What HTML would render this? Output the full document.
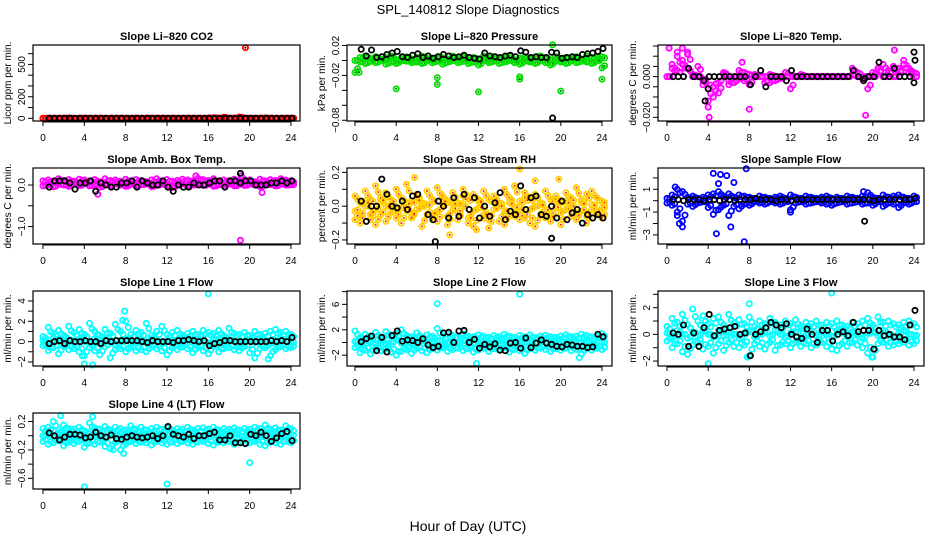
<!DOCTYPE html>
<html><head><meta charset="utf-8"><style>
html,body{margin:0;padding:0;background:#fff;}
svg{display:block;font-family:"Liberation Sans",Arial,sans-serif;}
</style></head><body>
<svg id="chart" width="936" height="540" viewBox="0 0 936 540" xmlns="http://www.w3.org/2000/svg">
<text x="468" y="14" text-anchor="middle" font-size="13">SPL_140812  Slope Diagnostics</text>
<text x="468" y="531" text-anchor="middle" font-size="14">Hour of Day (UTC)</text>
</svg>
<script>
// ---- data ----
const hours = [0,0.5,1,1.5,2,2.5,3,3.5,4,4.5,5,5.5,6,6.5,7,7.5,8,8.5,9,9.5,10,10.5,11,11.5,12,12.5,13,13.5,14,14.5,15,15.5,16,16.5,17,17.5,18,18.5,19,19.5,20,20.5,21,21.5,22,22.5,23,23.5,24];
const xTicks = [0,4,8,12,16,20,24];

const co2A = [0,2,-1,1,0,3,-2,0,1,-1,2,0,-3,1,0,2,-1,1,0,-2,3,0,1,-1,0,2,-1,1,0,-2,1,0,3,5,2,10,1,0,12,2,-1,0,1,3,0,-2,1,0,2];
const co2B = [-2,0,1,-1,2,0,-1,1,0,2,-1,0,1,-2,0,1,0,-1,2,0,-1,1,0,2,-1,0,1,-1,0,2,0,-1,1,0,-2,1,0,2,-1,0,1,-1,0,2,0,1,-1,0,1];
const co2K = [null,0,0,0,0,0,0,0,0,0,0,0,0,0,0,0,0,0,0,0,0,0,0,0,0,0,0,0,0,0,0,0,0,0,0,0,0,0,0,0,0,0,0,0,0,0,0,0,0];
const co2Out = [[19.6,655]];

const presA = [-0.016,0.004,0.006,0.003,0.005,0.002,0.004,0.006,0.001,0.003,0.005,0.002,0.004,0.006,0.003,0.001,0.005,0.004,0.002,0.006,0.003,0.005,0.001,0.004,0.002,0.006,0.003,0.005,0.002,0.004,0.006,0.001,0.003,0.005,0.002,0.004,0.006,0.003,0.001,0.005,0.002,0.004,0.003,0.005,0.002,0.006,0.004,0.003,0.005];
const presB = [0.000,-0.002,-0.004,-0.001,-0.003,0.000,-0.005,-0.002,-0.004,0.000,-0.001,-0.003,-0.002,-0.004,0.000,-0.003,-0.001,-0.005,-0.002,0.000,-0.003,-0.001,-0.004,-0.002,-0.006,0.000,-0.003,-0.001,-0.004,-0.002,0.000,-0.003,-0.005,-0.001,-0.002,-0.004,0.000,-0.003,-0.006,-0.001,-0.002,-0.004,0.000,-0.003,-0.001,-0.002,-0.004,0.000,-0.010];
const presK = [null,0.015,0.006,0.014,0.004,0.005,0.008,0.010,0.012,0.005,0.004,0.007,0.009,0.004,0.006,0.003,0.005,0.008,0.006,0.004,0.005,0.007,0.004,0.003,0.002,0.010,0.006,0.005,0.004,0.006,0.007,0.005,0.013,0.011,0.004,0.005,0.004,0.004,0.011,0.010,0.003,0.004,0.005,0.004,0.008,0.009,0.010,0.012,0.016];
const presOut = [[0.4,-0.016],[4,-0.038],[8,-0.023],[8,-0.032],[12,-0.042],[16,-0.022],[16,-0.025],[20,-0.041],[24,-0.025],[19.2,0.021]];
const presOutK = [[19.2,-0.077]];

const tempA = [0.000,0.006,0.010,0.008,0.012,0.000,0.005,-0.002,-0.006,-0.010,-0.003,0.002,-0.004,0.000,0.003,-0.002,0.001,0.000,0.000,0.000,-0.003,0.000,0.000,0.002,0.000,0.000,0.000,0.000,0.000,0.000,0.000,0.000,0.000,0.000,0.000,0.000,0.004,0.000,0.000,0.000,0.000,0.003,0.000,0.002,0.005,0.003,0.008,0.004,0.002];
const tempB = [0.000,0.004,0.003,0.006,0.004,0.001,0.000,-0.004,-0.012,-0.005,-0.008,0.001,-0.002,-0.003,-0.001,0.002,-0.004,0.001,0.000,-0.003,0.001,-0.002,-0.001,0.000,-0.006,0.000,0.001,0.000,0.000,0.000,0.000,0.000,0.000,0.000,0.000,0.000,0.001,0.002,-0.001,-0.006,0.002,0.004,0.006,0.003,0.000,0.004,0.006,0.002,0.000];
const tempK = [null,0,0,0,0.004,0,0,-0.002,0,0,0,0,0,0,0,0,-0.004,0,0.003,-0.005,0,0,0,-0.002,0.003,0,0,0,0,0,0,0,0,0,0,0,0.003,0,-0.002,0,0.000,0.007,0,0,0.004,0,0,0,0.008];
const tempOut = [[0.2,0.014],[1.5,0.014],[4.1,-0.020],[8,-0.016],[19.3,-0.019],[22.1,0.013],[4,-0.015],[7.3,0.007],[1,0.012],[2,0.011]];
const tempOutK = [[3.7,-0.012],[4,-0.006],[24,0.012],[24,-0.003],[19.2,-0.001]];

const ambA = [0.10,0.12,0.08,0.15,0.11,0.13,0.09,0.14,0.12,0.10,0.13,0.08,0.15,0.11,0.12,0.09,0.14,0.10,0.13,0.11,0.08,0.12,0.15,0.10,0.13,0.09,0.11,0.14,0.12,0.10,0.16,0.13,0.11,0.15,0.09,0.12,0.10,0.14,0.11,0.13,0.12,0.08,0.14,0.10,0.13,0.11,0.15,0.12,0.10];
const ambB = [-0.02,0.01,-0.04,0.03,0.00,-0.03,0.02,-0.01,0.04,-0.02,0.01,-0.05,0.02,-0.01,0.03,0.00,-0.03,0.02,-0.02,0.01,0.03,-0.04,0.00,0.02,-0.01,-0.06,0.01,0.03,-0.02,0.00,0.04,-0.01,0.02,-0.03,0.01,0.00,0.03,-0.02,0.02,-0.01,0.03,0.00,-0.04,0.02,0.01,-0.02,0.03,0.00,0.01];
const ambK = [null,-0.05,0.10,0.10,0.10,0.05,-0.10,0.05,0.05,0.10,-0.15,0.05,0.00,-0.05,-0.05,0.05,0.05,0.10,-0.05,0.10,0.05,0.00,0.00,0.10,-0.05,-0.15,0.00,-0.05,-0.05,0.05,0.00,0.00,0.05,0.10,0.10,-0.05,0.10,0.10,0.05,0.10,0.10,0.00,0.00,0.00,0.05,0.05,0.10,0.05,0.10];
const ambOut = [[19.1,-1.33],[19.2,0.22],[5.3,-0.22],[14.8,0.22],[21.2,-0.18]];
const ambOutK = [[19.1,0.28]];

const rhA = [0.06,0.02,0.09,0.04,0.12,0.03,0.08,0.01,0.10,0.05,0.13,0.03,0.07,0.02,0.09,0.04,0.11,0.06,0.03,0.08,0.02,0.10,0.05,0.07,0.03,0.09,0.04,0.06,0.02,0.10,0.05,0.12,0.03,0.08,0.05,0.07,0.02,0.09,0.04,0.06,0.03,0.08,0.05,0.11,0.04,0.07,0.09,0.05,0.03];
const rhB = [-0.03,-0.06,0.00,-0.08,-0.02,-0.05,0.00,-0.04,-0.07,-0.01,-0.03,-0.06,-0.02,0.00,-0.05,-0.08,-0.03,0.01,-0.06,-0.02,-0.04,0.00,-0.07,-0.03,-0.01,-0.05,-0.08,-0.02,0.00,-0.04,-0.06,-0.01,-0.03,-0.07,-0.02,0.00,-0.05,-0.03,-0.06,-0.01,-0.04,-0.02,0.00,-0.05,-0.03,-0.06,-0.02,-0.04,-0.01];
const rhC = [-0.08,-0.10,0.03,-0.05,-0.11,0.05,-0.09,0.04,-0.03,-0.10,0.02,-0.07,0.05,-0.12,0.01,-0.06,-0.09,0.04,-0.11,0.02,-0.08,0.06,-0.10,-0.12,0.04,-0.07,-0.13,0.03,-0.09,-0.11,0.02,-0.06,-0.08,0.05,-0.10,-0.12,0.01,-0.07,-0.09,0.04,-0.11,0.03,-0.06,-0.08,0.02,-0.10,0.01,-0.05,-0.07];
const rhK = [null,0.03,-0.09,0.00,0.00,0.16,0.07,0.00,-0.01,0.03,-0.02,0.06,0.07,null,-0.05,-0.08,0.03,0.00,-0.07,0.05,-0.06,0.07,-0.02,0.05,-0.07,0.00,-0.06,0.02,0.08,-0.08,-0.03,-0.05,0.12,-0.02,0.05,0.06,-0.05,-0.06,0.00,-0.07,0.03,-0.08,-0.04,-0.02,-0.10,-0.05,-0.07,-0.05,-0.07];
const rhOut = [[16,0.22],[5.8,0.17],[9.2,-0.17],[11.8,-0.14],[17.5,0.15],[19.8,0.16]];
const rhOutK = [[7.8,-0.21],[19.1,-0.19]];

const flowA = [0.2,0.5,1.0,0.8,0.3,0.4,0.2,0.3,0.5,0.6,0.8,0.4,0.6,0.3,0.5,0.4,0.3,0.2,0.4,0.3,0.2,0.3,0.4,0.2,0.5,0.3,0.2,0.4,0.3,0.2,0.3,0.4,0.2,0.3,0.2,0.4,0.3,0.2,0.4,0.7,0.3,0.2,0.5,0.3,0.4,0.5,0.3,0.2,0.4];
const flowB = [-0.2,-0.4,-1.0,-1.8,-0.3,-0.5,-0.2,-0.1,-0.6,-1.2,-0.8,-0.4,-1.3,-0.5,-0.7,-0.3,-0.4,-0.1,-0.2,-0.3,-0.1,-0.2,-0.3,-0.1,-0.8,-0.2,-0.1,-0.3,-0.2,-0.1,-0.2,-0.3,-0.4,-0.2,-0.1,-0.3,-0.2,-0.1,-0.3,-0.2,-0.4,-0.1,-0.5,-0.2,-0.3,-0.6,-0.2,-0.3,-0.1];
const flowK = [null,0.1,0.1,0.0,0.1,0.1,0.1,0.0,0.1,0.1,0.0,0.1,0.1,0.0,0.1,0.1,0.1,0.2,0.1,0.1,0.1,0.0,0.1,0.1,0.0,0.1,0.1,0.1,0.1,0.1,0.1,0.1,0.1,0.1,0.1,0.1,0.1,0.1,0.1,0.1,0.0,0.1,0.1,0.1,0.1,0.1,0.1,0.1,0.2];
const flowOut = [[1.5,-2.3],[1.2,-2.0],[1,-1.3],[0.8,1.2],[4.5,2.4],[5.2,2.3],[5.8,2.2],[7.7,2.8],[7.5,-3.6],[4.8,-2.9],[6.2,-2.3],[5.0,1.5],[6.5,1.6],[12,-1.0],[19.1,0.8]];
const flowOutK = [[19.2,-1.8]];

const l1A = [0.5,1.4,0.8,1.1,0.6,1.5,0.9,1.2,0.7,1.8,1.0,0.6,1.2,0.8,1.7,1.0,2.0,0.7,1.1,0.9,1.8,0.6,1.0,1.5,0.7,0.9,1.1,0.6,0.8,1.0,0.7,1.1,0.9,0.8,1.1,0.6,1.3,0.8,0.7,0.9,0.6,1.0,0.7,0.8,1.0,1.2,0.9,1.0,0.7];
const l1B = [0.1,-0.2,0.3,0.0,-0.3,0.2,-0.1,0.3,0.0,-0.2,0.3,-0.1,0.2,0.0,-0.3,0.1,0.3,-0.2,0.0,0.2,-0.1,0.3,0.0,-0.2,0.1,0.2,-0.3,0.0,0.3,-0.1,0.2,0.0,-0.2,0.3,0.1,-0.1,0.2,0.0,-0.3,0.1,0.2,-0.1,0.3,0.0,-0.2,0.1,0.3,0.0,-0.1];
const l1C = [-0.4,-0.9,-0.6,-1.2,-0.5,-0.8,-0.7,-1.0,-1.4,-0.6,-0.9,-1.3,-0.5,-1.6,-0.8,-0.7,-1.0,-0.6,-0.9,-0.8,-1.0,-0.5,-0.7,-0.9,-1.3,-0.6,-0.8,-0.5,-0.7,-1.1,-0.6,-0.9,-1.2,-0.5,-1.0,-0.7,-0.6,-0.8,-0.9,-0.5,-1.1,-1.6,-0.7,-0.6,-1.4,-0.8,-0.5,-0.7,-0.6];
const l1K = [null,-0.2,0.0,0.1,-0.2,0.1,0.0,0.0,0.1,0.0,0.0,-0.2,0.1,0.0,0.1,0.1,0.1,0.1,0.1,0.0,-0.1,0.1,0.0,0.0,0.0,-0.1,0.1,0.1,0.2,0.1,0.0,0.1,-0.4,-0.2,-0.1,0.1,0.1,0.0,0.0,0.0,0.0,0.0,0.0,0.0,0.1,0.0,0.1,0.0,0.4];
const l1Out = [[16,4.7],[7.9,3.0],[4.8,-2.3],[4,-2.2],[7.7,2.1],[3.8,-1.4],[21.8,-1.7]];

const l2A = [1.8,0.8,1.3,1.0,1.6,0.9,1.7,1.2,1.4,2.0,1.1,0.9,1.5,0.8,1.2,1.0,2.2,0.9,1.3,1.1,0.8,1.4,1.0,0.9,1.2,1.0,0.8,1.1,0.9,1.3,1.0,0.8,1.1,0.9,1.2,0.8,1.0,1.1,0.9,0.8,1.0,1.2,0.9,1.0,1.3,1.1,0.9,1.0,1.4];
const l2B = [0.2,-0.3,0.4,0.0,-0.2,0.3,-0.4,0.1,0.5,-0.1,0.2,-0.3,0.0,0.4,-0.2,0.1,0.3,-0.4,0.0,0.2,-0.1,0.4,0.0,-0.3,0.1,0.3,-0.2,0.0,0.4,-0.3,0.1,0.2,-0.4,0.0,0.3,-0.1,0.2,0.0,-0.3,0.4,0.1,-0.2,0.3,0.0,-0.1,0.2,-0.3,0.1,0.0];
const l2C = [-0.8,-1.6,-1.2,-1.8,-0.9,-1.3,-1.0,-1.5,-2.0,-1.4,-1.1,-1.7,-0.9,-1.3,-1.6,-1.0,-1.2,-0.8,-1.4,-1.1,-0.9,-1.3,-1.0,-1.5,-1.2,-0.9,-1.4,-1.0,-1.2,-0.8,-1.5,-1.1,-1.3,-1.7,-1.0,-1.2,-0.9,-1.1,-1.4,-1.0,-1.2,-0.9,-1.3,-1.1,-1.8,-1.0,-1.2,-0.9,-1.1];
const l2K = [null,0.1,0.6,1.0,-1.3,0.8,-1.5,1.1,1.8,0.2,0.4,0.3,0.0,0.6,-0.4,-0.8,-0.6,1.5,1.6,0.0,1.8,1.9,0.0,0.5,-0.9,-0.3,-0.7,-0.2,-1.2,-1.3,-0.1,0.0,-0.9,0.7,-0.8,-0.1,0.4,-0.1,-0.3,-0.6,-0.7,-0.3,-0.4,-0.6,-0.6,-0.8,-0.7,1.3,0.9];
const l2Out = [[8,6.1],[16,7.6],[11.8,-3.3],[21.8,-2.4]];

const l3A = [0.6,1.2,0.9,1.5,0.7,1.9,1.0,1.4,0.8,1.2,1.3,0.7,1.5,0.9,1.1,0.8,1.3,0.6,1.0,0.8,1.2,0.9,0.7,1.0,0.8,1.1,0.6,0.9,0.8,1.0,0.7,0.9,0.8,1.0,0.7,0.6,0.9,0.8,1.0,1.2,0.7,1.3,0.9,1.0,0.8,0.7,0.9,1.0,0.8];
const l3B = [0.1,-0.2,0.3,0.0,-0.3,0.2,-0.1,0.3,0.0,-0.2,0.3,-0.1,0.2,0.0,-0.3,0.1,0.3,-0.2,0.0,0.2,-0.1,0.3,0.0,-0.2,0.1,0.2,-0.3,0.0,0.3,-0.1,0.2,0.0,-0.2,0.3,0.1,-0.1,0.2,0.0,-0.3,0.1,0.2,-0.1,0.3,0.0,-0.2,0.1,0.3,0.0,-0.1];
const l3C = [-0.5,-1.0,-0.7,-1.3,-1.5,-0.8,-0.6,-1.1,-0.9,-1.4,-0.7,-1.2,-0.6,-0.9,-1.0,-0.8,-1.6,-0.7,-0.9,-1.1,-0.6,-1.2,-0.8,-0.7,-1.0,-0.6,-0.9,-0.7,-1.0,-0.8,-0.6,-0.9,-1.1,-1.2,-0.7,-0.9,-0.6,-0.8,-1.0,-1.4,-1.7,-0.7,-0.6,-0.9,-0.8,-0.7,-0.6,-0.8,-0.7];
const l3K = [null,0.1,0.0,0.7,-0.9,0.1,-0.9,0.5,1.5,-0.1,0.3,0.4,0.5,0.6,0.0,0.1,-1.6,0.0,0.2,0.5,0.9,0.7,0.5,0.8,0.0,-0.2,-0.3,0.4,0.0,-0.6,0.3,0.3,-0.5,0.0,0.2,-0.1,0.9,0.2,0.3,0.3,-1.1,0.3,-0.1,0.0,-0.2,-0.2,-0.4,0.7,1.8];
const l3Out = [[16,3.1],[8,2.3],[4,-2.2],[7.8,-1.7],[19.9,-1.7]];

const l4A = [0.10,0.12,0.20,0.08,0.15,0.10,0.09,0.12,0.07,0.18,0.11,0.09,0.13,0.08,0.12,0.10,0.08,0.14,0.09,0.12,0.08,0.10,0.12,0.09,0.11,0.08,0.10,0.09,0.12,0.08,0.10,0.11,0.09,0.12,0.08,0.10,0.09,0.11,0.08,0.10,0.09,0.12,0.10,0.15,0.09,0.11,0.08,0.14,0.10];
const l4B = [0.00,0.03,-0.02,0.04,0.01,-0.03,0.02,0.00,-0.04,0.03,-0.01,0.02,-0.03,0.04,0.00,-0.02,0.03,0.01,-0.04,0.02,-0.01,0.03,0.00,-0.03,0.02,0.04,-0.02,0.01,-0.03,0.03,0.00,-0.02,0.04,0.01,-0.04,0.02,-0.01,0.03,-0.02,0.00,0.04,-0.03,0.01,0.02,-0.04,0.03,0.00,-0.02,0.01];
const l4C = [-0.08,-0.12,-0.10,-0.07,-0.14,-0.09,-0.11,-0.08,-0.16,-0.10,-0.12,-0.09,-0.15,-0.18,-0.10,-0.20,-0.12,-0.08,-0.11,-0.09,-0.10,-0.13,-0.08,-0.10,-0.12,-0.09,-0.11,-0.08,-0.10,-0.12,-0.09,-0.08,-0.11,-0.13,-0.09,-0.10,-0.08,-0.12,-0.09,-0.11,-0.10,-0.08,-0.12,-0.14,-0.09,-0.10,-0.12,-0.08,-0.10];
const l4K = [null,0.04,0.00,-0.06,-0.02,0.02,0.02,0.01,-0.03,-0.02,0.05,0.00,-0.02,0.01,-0.04,-0.05,-0.02,0.00,-0.02,-0.03,-0.02,0.00,-0.04,0.00,0.13,0.02,0.00,-0.02,0.02,-0.04,0.00,0.00,0.03,0.05,-0.06,-0.06,0.00,-0.10,-0.10,-0.11,0.02,0.00,0.05,0.00,-0.08,-0.03,0.03,0.06,-0.07];
const l4Out = [[4,-0.72],[12,-0.68],[20,-0.38],[1.7,0.28],[4.8,0.27],[7.8,-0.25],[6.8,-0.2]];

// ---- layout ----
const cols = [{bx0:33,bx1:300,x0:43,x1:291},{bx0:347,bx1:612,x0:355,x1:602},{bx0:658,bx1:924,x0:667,x1:914}];
const rows = [{top:45,bot:121},{top:168,bot:244},{top:291,bot:366},{top:413,bot:489}];

const panels = [
 {name:'co2',title:'Slope Li\u2013820 CO2',ylab:'Licor ppm per min.',c:0,r:0,ylim:[-25,680],ticks:[0,100,200,300,400,500,600],labels:[[0,'0'],[200,'200'],[500,'500']],color:'#ff0000',inner:'#000',series:[co2A,co2B],k:co2K,out:co2Out,outK:[]},
 {name:'pressure',title:'Slope Li\u2013820 Pressure',ylab:'kPa per min.',c:1,r:0,ylim:[-0.081,0.0207],ticks:[0.02,0,-0.02,-0.04,-0.06,-0.08],labels:[[0.02,'0.02'],[-0.02,'\u22120.02'],[-0.08,'\u22120.08']],color:'#00e000',inner:'#006600',series:[presA,presB],k:presK,out:presOut,outK:presOutK},
 {name:'li820-temp',title:'Slope Li\u2013820 Temp.',ylab:'degrees C per min.',c:2,r:0,ylim:[-0.0218,0.0155],ticks:[0.015,0.01,0.005,0,-0.005,-0.01,-0.015,-0.02],labels:[[0,'0.000'],[-0.02,'\u22120.020']],color:'#ff00ff',inner:'#ff99ff',series:[tempA,tempB],k:tempK,out:tempOut,outK:tempOutK},
 {name:'amb-box-temp',title:'Slope Amb. Box Temp.',ylab:'degrees C per min.',c:0,r:1,ylim:[-1.42,0.41],ticks:[0,-0.5,-1],labels:[[0,'0.0'],[-1,'\u22121.0']],color:'#ff00ff',inner:'#ff00ff',series:[ambA,ambB],k:ambK,out:ambOut,outK:ambOutK},
 {name:'gas-stream-rh',title:'Slope Gas Stream RH',ylab:'percent per min.',c:1,r:1,ylim:[-0.224,0.226],ticks:[0.2,0.1,0,-0.1,-0.2],labels:[[0.2,'0.2'],[0,'0.0'],[-0.2,'\u22120.2']],color:'#ffd000',inner:'#ff2000',series:[rhA,rhB,rhC],k:rhK,out:rhOut,outK:rhOutK},
 {name:'sample-flow',title:'Slope Sample Flow',ylab:'ml/min per min.',c:2,r:1,ylim:[-3.8,2.87],ticks:[2,1,0,-1,-2,-3],labels:[[1,'1'],[-1,'\u22121'],[-3,'\u22123']],color:'#0000ff',inner:'#0000ff',series:[flowA,flowB],k:flowK,out:flowOut,outK:flowOutK},
 {name:'line1-flow',title:'Slope Line 1 Flow',ylab:'ml/min per min.',c:0,r:2,ylim:[-2.4,4.98],ticks:[4,3,2,1,0,-1,-2],labels:[[4,'4'],[2,'2'],[0,'0'],[-2,'\u22122']],color:'#00ffff',inner:'#00ffff',series:[l1A,l1B,l1C],k:l1K,out:l1Out,outK:[]},
 {name:'line2-flow',title:'Slope Line 2 Flow',ylab:'ml/min per min.',c:1,r:2,ylim:[-3.7,8.1],ticks:[8,6,4,2,0,-2],labels:[[6,'6'],[2,'2'],[-2,'\u22122']],color:'#00ffff',inner:'#00ffff',series:[l2A,l2B,l2C],k:l2K,out:l2Out,outK:[]},
 {name:'line3-flow',title:'Slope Line 3 Flow',ylab:'ml/min per min.',c:2,r:2,ylim:[-2.37,3.25],ticks:[3,2,1,0,-1,-2],labels:[[2,'2'],[0,'0'],[-2,'\u22122']],color:'#00ffff',inner:'#00ffff',series:[l3A,l3B,l3C],k:l3K,out:l3Out,outK:[]},
 {name:'line4-flow',title:'Slope Line 4 (LT) Flow',ylab:'ml/min per min.',c:0,r:3,ylim:[-0.75,0.32],ticks:[0.2,0,-0.2,-0.4,-0.6],labels:[[0.2,'0.2'],[-0.2,'\u22120.2'],[-0.6,'\u22120.6']],color:'#00ffff',inner:'#00ffff',series:[l4A,l4B,l4C],k:l4K,out:l4Out,outK:[]}
];

const NS='http://www.w3.org/2000/svg';
const svg=document.getElementById('chart');
function mk(tag,attrs,parent){const e=document.createElementNS(NS,tag);for(const k in attrs)e.setAttribute(k,attrs[k]);(parent||svg).appendChild(e);return e;}

panels.forEach(p=>{
  const C=cols[p.c],R=rows[p.r];
  const g=mk('g',{});
  
  
  const xs=v=>C.x0+(v/24)*(C.x1-C.x0);
  const ys=v=>R.bot-(v-p.ylim[0])/(p.ylim[1]-p.ylim[0])*(R.bot-R.top);
  const t=mk('text',{x:(C.bx0+C.bx1)/2,y:R.top-5,'text-anchor':'middle','font-size':'11','font-weight':'bold'},g);
  t.textContent=p.title;
  
  
  const mg=mk('g',{},g);
  
  
  function dot(h,v,col,inner){
    if(v===null||v===undefined)return;
    const y=ys(v); if(y<R.top-6||y>R.bot+6)return;
    const c=mk('circle',{cx:xs(h).toFixed(1),cy:y.toFixed(1),r:2.6,fill:'none',stroke:col,'stroke-width':1.8},mg);
    
    
    if(inner&&inner!==col){mk('circle',{cx:xs(h).toFixed(1),cy:y.toFixed(1),r:1,fill:inner},mg);}
  }
  p.series.forEach(s=>{const n=Math.min(s.length,hours.length);for(let i=0;i<n;i++){dot(hours[i],s[i],p.color,p.inner);dot(hours[i]+0.25,s[i]*0.7,p.color,p.inner);}});
  p.out.forEach(o=>dot(o[0],o[1],p.color,p.inner));
  {const n=Math.min(p.k.length,hours.length);for(let i=0;i<n;i++)dot(hours[i]+0.1,p.k[i],'#000',null);}
  p.outK.forEach(o=>dot(o[0],o[1],'#000',null));
  const b=mk('rect',{x:C.bx0,y:R.top,width:C.bx1-C.bx0,height:R.bot-R.top,fill:'none',stroke:'#000','stroke-width':1.2},g);
  
  
  const xa=mk('g',{},g);
  
  
  mk('line',{x1:xs(0),x2:xs(24),y1:R.bot+1,y2:R.bot+1,stroke:'#000'},xa);
  xTicks.forEach(v=>{
    mk('line',{x1:xs(v),x2:xs(v),y1:R.bot,y2:R.bot+5,stroke:'#000'},xa);
    const tl=mk('text',{x:xs(v),y:R.bot+20,'text-anchor':'middle','font-size':'10'},xa);
    tl.textContent=String(v);
    
    
  });
  const ya=mk('g',{},g);
  
  
  p.ticks.forEach(v=>{const y=ys(v);if(y<R.top-1||y>R.bot+1)return;mk('line',{x1:C.bx0-5,x2:C.bx0,y1:y,y2:y,stroke:'#000'},ya);});
  p.labels.forEach(l=>{
    const y=ys(l[0]);const x=C.bx0-8;
    const tl=mk('text',{x:x,y:y,'text-anchor':'middle','font-size':'10',transform:`rotate(-90 ${x} ${y})`},ya);
    tl.textContent=l[1];
    
    
  });
  const yx=C.bx0-22,yy=(R.top+R.bot)/2;
  const yl=mk('text',{x:yx,y:yy,'text-anchor':'middle','font-size':'10',transform:`rotate(-90 ${yx} ${yy})`},g);
  yl.textContent=p.ylab;
  
  
});
</script>
</body></html>
